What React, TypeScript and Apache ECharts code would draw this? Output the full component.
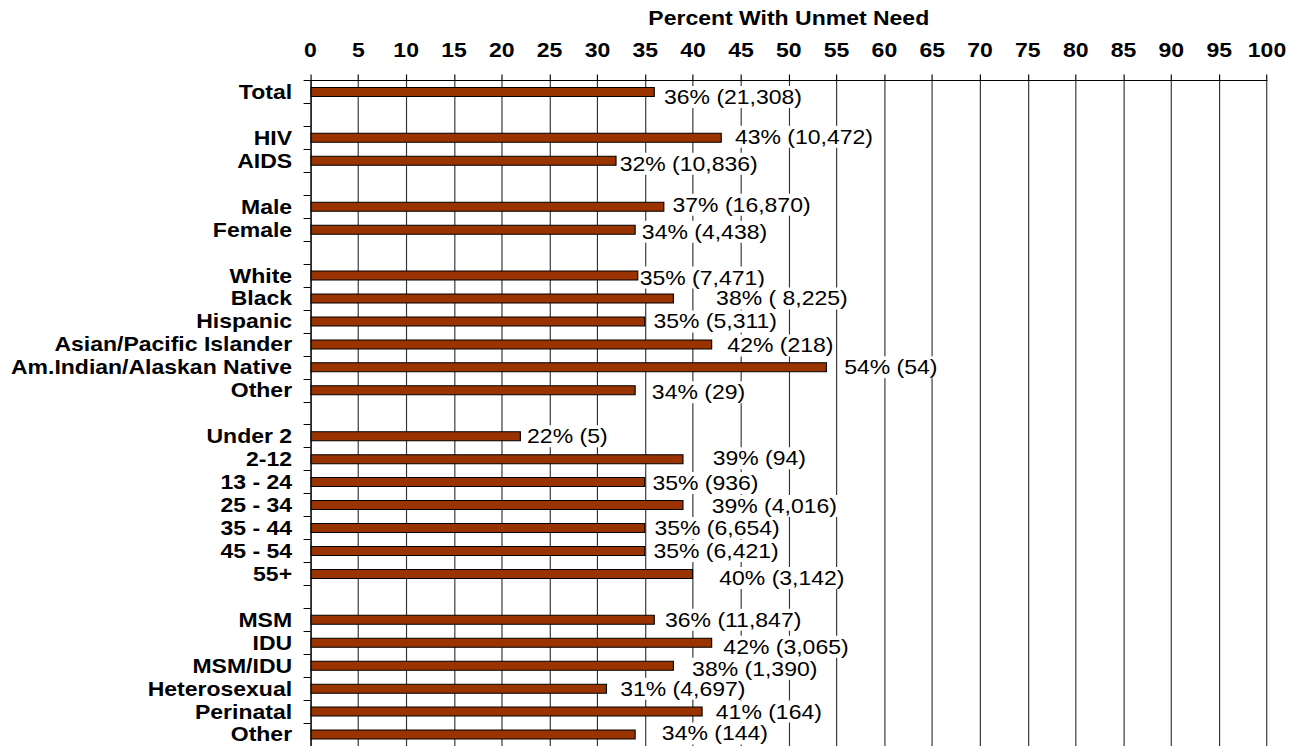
import React, { useEffect, useRef } from 'react';
import * as echarts from 'echarts';

// ---- data ----
const categories = [
  'Total', '', 'HIV', 'AIDS', '', 'Male', 'Female', '',
  'White', 'Black', 'Hispanic', 'Asian/Pacific Islander', 'Am.Indian/Alaskan Native', 'Other', '',
  'Under 2', '2-12', '13 - 24', '25 - 34', '35 - 44', '45 - 54', '55+', '',
  'MSM', 'IDU', 'MSM/IDU', 'Heterosexual', 'Perinatal', 'Other',
];
// bar lengths (null = spacer row)
const values = [
  36, null, 43, 32, null, 37, 34, null,
  34.3, 38, 35, 42, 54, 34, null,
  22, 39, 35, 39, 35, 35, 40, null,
  36, 42, 38, 31, 41, 34,
];
// printed percentages
const percentLabels = [
  36, null, 43, 32, null, 37, 34, null,
  35, 38, 35, 42, 54, 34, null,
  22, 39, 35, 39, 35, 35, 40, null,
  36, 42, 38, 31, 41, 34,
];
// printed counts
const counts = [
  '21,308', '', '10,472', '10,836', '', '16,870', '4,438', '',
  '7,471', ' 8,225', '5,311', '218', '54', '29', '',
  '5', '94', '936', '4,016', '6,654', '6,421', '3,142', '',
  '11,847', '3,065', '1,390', '4,697', '164', '144',
];
const axisTitle = 'Percent With Unmet Need';

// ---- label layout (style, not data) ----
const labelDx = [8, 0, 12, 2, 0, 7, 5, 0, 0, 41, 7, 14, 16, 15, 0, 5, 28, 6, 27, 8, 7, 25, 0, 9, 10, 17, 12, 12, 25];
const labelDy = [5, 0, -1, 3, 0, -2, 2, 0, 2, 0, 0, 1, 0, 2, 0, 0, -1, 1, 1, 0, 0, 4, 0, 0, 4, 3, 0, 0, -1];

const S = 1.15; // horizontal stretch of the reference
const W = 1295 / S;
const H = 746;
const FONT = 'Liberation Sans, Arial, Helvetica, sans-serif';

export default function App() {
  const ref = useRef<HTMLDivElement>(null);
  useEffect(() => {
    document.body.style.margin = '0';
    const chart = echarts.init(ref.current!, null, { renderer: 'svg' });
    const data = values.map((v, i) =>
      v == null
        ? '-'
        : {
            value: v,
            label: { distance: labelDx[i] / S, offset: [0, labelDy[i]] },
          }
    );
    chart.setOption({
      animation: false,
      backgroundColor: '#fff',
      grid: { left: 310.5 / S, top: 80.5, width: 956.5 / S, height: 667 },
      xAxis: {
        type: 'value',
        position: 'top',
        min: 0,
        max: 100,
        interval: 5,
        name: axisTitle,
        nameLocation: 'middle',
        nameGap: 52,
        nameTextStyle: { fontFamily: FONT, fontWeight: 'bold', fontSize: 20, color: '#000' },
        axisLine: { show: true, lineStyle: { color: '#000', width: 1 } },
        axisTick: { show: true, length: 6, lineStyle: { color: '#000' } },
        axisLabel: { fontFamily: FONT, fontWeight: 'bold', fontSize: 20, color: '#000', margin: 20 },
        splitLine: { show: true, lineStyle: { color: '#333', width: 1 } },
      },
      yAxis: {
        type: 'category',
        inverse: true,
        data: categories,
        axisLine: { show: true, lineStyle: { color: '#000', width: 1 } },
        axisTick: { show: true, length: 6, lineStyle: { color: '#000' } },
        axisLabel: { interval: 0, fontFamily: FONT, fontWeight: 'bold', fontSize: 20, color: '#000', margin: 16 },
        splitLine: { show: false },
      },
      series: [
        {
          type: 'bar',
          data,
          barWidth: 10,
          itemStyle: { color: '#993300', borderColor: '#000', borderWidth: 1 },
          label: {
            show: true,
            position: 'right',
            fontFamily: FONT,
            fontSize: 20,
            color: '#000',
            backgroundColor: '#fff',
            lineHeight: 22,
            padding: [0, 1, 0, 1],
            formatter: (p: any) => `${percentLabels[p.dataIndex]}% (${counts[p.dataIndex]})`,
          },
        },
      ],
    });
    return () => chart.dispose();
  }, []);
  return (
    <div
      ref={ref}
      style={{
        position: 'absolute',
        left: 0,
        top: 0,
        width: W,
        height: H,
        transform: `scaleX(${S})`,
        transformOrigin: '0 0',
      }}
    />
  );
}
